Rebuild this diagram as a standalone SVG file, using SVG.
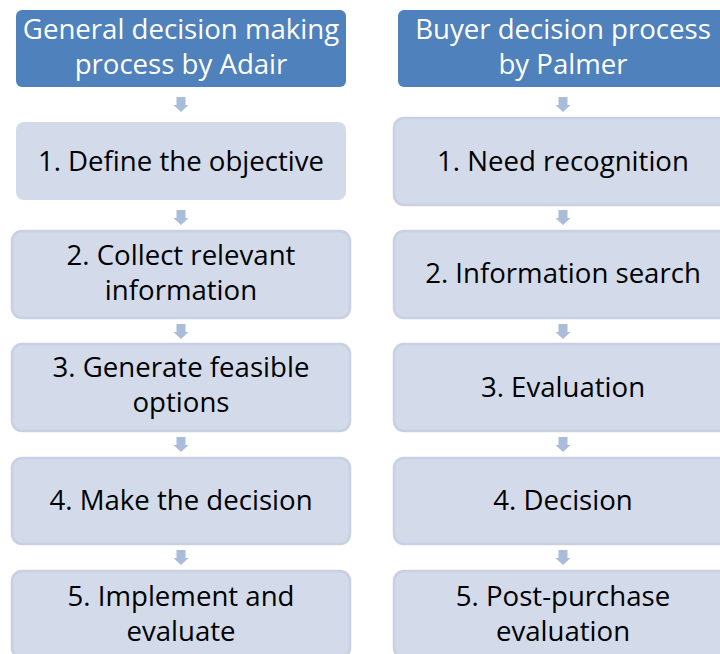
<svg xmlns="http://www.w3.org/2000/svg" width="720" height="654" viewBox="0 0 720 654">
<defs>
<style>
.hdr{fill:#4F81BD;}
.box{fill:#D3DAEA;}
.boxr{fill:#D3DAEA;stroke:#C8D0E3;stroke-width:2.5;}
.arr{fill:#A9BCDA;}
.ht{font-family:"Open Sans","Noto Sans",sans-serif;font-size:27.6px;fill:#FFFFFF;text-anchor:middle;}
.bt{font-family:"Open Sans","Noto Sans",sans-serif;font-size:27.6px;fill:#000000;text-anchor:middle;}
</style>
<path id="a" d="M-4.5,0 H4.5 V8 H7.5 L0,15 L-7.5,8 H-4.5 Z"/>
</defs>
<rect width="720" height="654" fill="#FFFFFF"/>
<g id="connectors">
<use href="#a" class="arr" x="181" y="97"/>
<use href="#a" class="arr" x="181" y="210"/>
<use href="#a" class="arr" x="181" y="324"/>
<use href="#a" class="arr" x="181" y="437"/>
<use href="#a" class="arr" x="181" y="550"/>
<use href="#a" class="arr" x="563" y="97"/>
<use href="#a" class="arr" x="563" y="210"/>
<use href="#a" class="arr" x="563" y="324"/>
<use href="#a" class="arr" x="563" y="437"/>
<use href="#a" class="arr" x="563" y="550"/>
</g>
<g id="left-header">
<rect class="hdr" x="16" y="10" width="330" height="77" rx="6"/>
<text class="ht"><tspan x="181" y="39">General decision making</tspan><tspan x="181" y="74">process by Adair</tspan></text>
</g>
<g id="left-1">
<rect class="box" x="16" y="122" width="330" height="78" rx="8"/>
<text class="bt" x="181" y="171">1. Define the objective</text>
</g>
<g id="left-2">
<rect class="boxr" x="12" y="231" width="338" height="87" rx="10"/>
<text class="bt"><tspan x="181" y="265">2. Collect relevant</tspan><tspan x="181" y="300">information</tspan></text>
</g>
<g id="left-3">
<rect class="boxr" x="12" y="344" width="338" height="87" rx="10"/>
<text class="bt"><tspan x="181" y="377">3. Generate feasible</tspan><tspan x="181" y="412">options</tspan></text>
</g>
<g id="left-4">
<rect class="boxr" x="12" y="458" width="338" height="86" rx="10"/>
<text class="bt" x="181" y="510">4. Make the decision</text>
</g>
<g id="left-5">
<rect class="boxr" x="12" y="571" width="338" height="87" rx="10"/>
<text class="bt"><tspan x="181" y="606">5. Implement and</tspan><tspan x="181" y="641">evaluate</tspan></text>
</g>
<g id="right-header">
<rect class="hdr" x="398" y="10" width="330" height="77" rx="6"/>
<text class="ht"><tspan x="563" y="39">Buyer decision process</tspan><tspan x="563" y="74">by Palmer</tspan></text>
</g>
<g id="right-1">
<rect class="boxr" x="394" y="118" width="338" height="87" rx="10"/>
<text class="bt" x="563" y="171">1. Need recognition</text>
</g>
<g id="right-2">
<rect class="boxr" x="394" y="231" width="338" height="87" rx="10"/>
<text class="bt" x="563" y="283">2. Information search</text>
</g>
<g id="right-3">
<rect class="boxr" x="394" y="344" width="338" height="87" rx="10"/>
<text class="bt" x="563" y="397">3. Evaluation</text>
</g>
<g id="right-4">
<rect class="boxr" x="394" y="458" width="338" height="86" rx="10"/>
<text class="bt" x="563" y="510">4. Decision</text>
</g>
<g id="right-5">
<rect class="boxr" x="394" y="571" width="338" height="87" rx="10"/>
<text class="bt"><tspan x="563" y="606">5. Post-purchase</tspan><tspan x="563" y="641">evaluation</tspan></text>
</g>
</svg>
